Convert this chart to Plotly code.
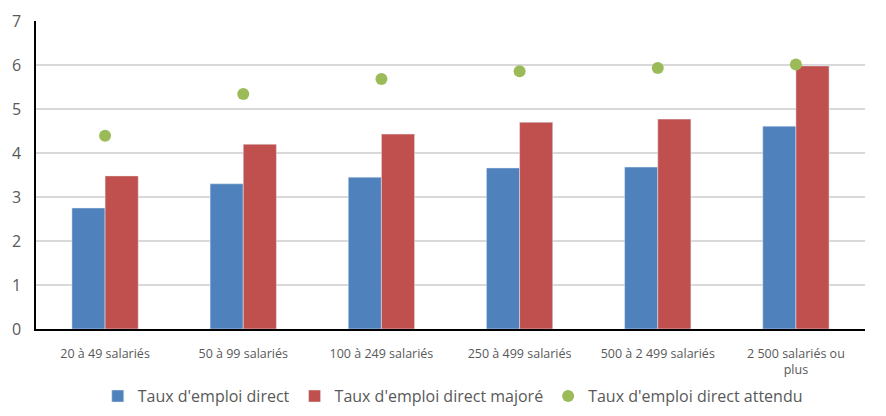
import plotly.graph_objects as go

categories = ["20 à 49 salariés", "50 à 99 salariés", "100 à 249 salariés",
              "250 à 499 salariés", "500 à 2 499 salariés", "2 500 salariés ou<br>plus"]
direct = [2.75, 3.30, 3.45, 3.66, 3.68, 4.61]
majore = [3.48, 4.20, 4.43, 4.70, 4.77, 5.98]
attendu = [4.39, 5.34, 5.68, 5.86, 5.93, 6.01]
y_ticks = [0, 1, 2, 3, 4, 5, 6, 7]

font_family = "Open Sans, Lato, sans-serif"
fig = go.Figure()
fig.add_trace(go.Bar(x=categories, y=direct, name="Taux d'emploi direct",
                     marker_color="#4F81BD", offsetgroup="a"))
fig.add_trace(go.Bar(x=categories, y=majore, name="Taux d'emploi direct majoré",
                     marker_color="#C0504D", offsetgroup="b"))
fig.add_trace(go.Scatter(x=categories, y=attendu, name="Taux d'emploi direct attendu",
                         mode="markers", marker=dict(color="#9BBB59", size=12)))

fig.update_layout(
    width=886, height=416,
    margin=dict(l=28, r=29, t=13, b=95, autoexpand=False),
    plot_bgcolor="white", paper_bgcolor="white",
    barmode="group", bargap=0.52, bargroupgap=0,
    font=dict(family=font_family, size=12, color="#595959"),
    legend=dict(orientation="h", x=0.502, xanchor="center", xref="container",
                y=0.067, yanchor="middle", yref="container",
                font=dict(size=16, color="#595959"), itemwidth=30, traceorder="normal"),
    showlegend=True,
)
fig.update_yaxes(range=[0, 7], tickvals=y_ticks, showgrid=True, gridcolor="#D9D9D9",
                 gridwidth=1.5, showline=True, linecolor="black", linewidth=1.5,
                 ticks="", zeroline=False, ticklabelstandoff=10,
                 tickfont=dict(size=16, color="#595959"))
fig.update_xaxes(showline=True, linecolor="black", linewidth=1.5, ticks="",
                 ticklabelstandoff=12,
                 tickfont=dict(size=12.5, color="#595959"))
fig.write_html("out.html")
